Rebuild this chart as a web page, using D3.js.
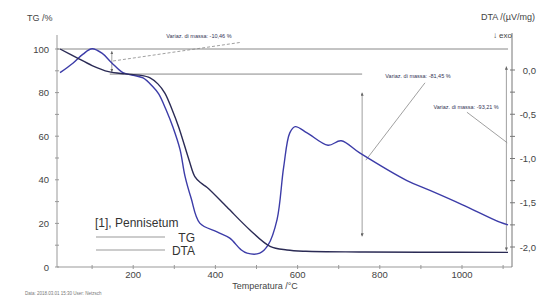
<!DOCTYPE html>
<html>
<head>
<meta charset="utf-8">
<script src="https://cdn.jsdelivr.net/npm/d3@7"></script>
<style>
  body { margin: 0; background: #fff; }
  svg { display: block; font-family: 'Liberation Sans', Arial, sans-serif; }
</style>
</head>
<body>
<div id="chart"></div>
<script>
// TG curve (mass %) vs temperature
const tgTemp = [22, 60, 100, 140, 180, 215, 241, 260, 277, 295, 311, 336, 350, 365, 380, 428, 484, 533, 574, 620, 750, 900, 1112]
const tgMass = [100, 96.3, 92.4, 89.6, 88.6, 88.0, 86.8, 84, 79.8, 72, 64, 49, 41.5, 38.5, 36.5, 27.5, 17, 9.5, 7.8, 7.2, 6.9, 6.8, 6.7]

// DTA curve (µV/mg) vs temperature
const dtaTemp = [22, 54, 78, 100, 124, 148, 175, 200, 224, 248, 262, 280, 297, 314, 326, 341, 362, 404, 435, 462, 477, 508, 528, 550, 566, 581, 594, 623, 674, 706, 752, 866, 922, 1000, 1092, 1112]
const dtaValue = [-0.03, 0.08, 0.18, 0.24, 0.19, 0.08, -0.03, -0.06, -0.09, -0.19, -0.27, -0.45, -0.65, -0.9, -1.2, -1.45, -1.73, -1.83, -1.9, -2.03, -2.07, -2.07, -1.98, -1.69, -1.1, -0.71, -0.64, -0.71, -0.85, -0.8, -0.94, -1.25, -1.36, -1.52, -1.72, -1.75]

const xTicks = [200, 400, 600, 800, 1000]
const tgTicks = [0, 20, 40, 60, 80, 100]
const dtaTicks = [0, -0.5, -1, -1.5, -2]
const dtaTickLabels = ['0,0', '-0,5', '-1,0', '-1,5', '-2,0']

const massSteps = ['Variaz. di massa: -10,46 %', 'Variaz. di massa: -81,45 %', 'Variaz. di massa: -93,21 %']
const legendTitle = '[1], Pennisetum'
const legendNames = ['TG', 'DTA']

const width = 537
const height = 298

const svg = d3
  .select('#chart')
  .append('svg')
  .attr('width', width)
  .attr('height', height)

svg.append('defs')
  .append('marker')
  .attr('id', 'arr')
  .attr('viewBox', '0 0 6 6')
  .attr('refX', 6)
  .attr('refY', 3)
  .attr('markerWidth', 4)
  .attr('markerHeight', 4)
  .attr('orient', 'auto-start-reverse')
  .append('path')
  .attr('d', 'M0,0L6,3L0,6Z')
  .attr('fill', '#666')

const xPositionScale = d3.scaleLinear().domain([0, 1000]).range([51, 462])
const tgScale = d3.scaleLinear().domain([0, 100]).range([267, 49])
const dtaScale = d3.scaleLinear().domain([-2, 0]).range([247, 70])

const axisColor = '#999'
const textColor = '#444'

// left axis
svg.append('line')
  .attr('x1', 57).attr('x2', 57)
  .attr('y1', 35).attr('y2', tgScale(0))
  .attr('stroke', axisColor)

d3.range(0, 101, 10).forEach(v => {
  svg.append('line')
    .attr('x1', 55).attr('x2', 59)
    .attr('y1', tgScale(v)).attr('y2', tgScale(v))
    .attr('stroke', axisColor)
})

svg.selectAll('.tg-tick')
  .data(tgTicks)
  .enter()
  .append('text')
  .attr('class', 'tg-tick')
  .attr('x', 49)
  .attr('y', d => tgScale(d) + 3.5)
  .attr('text-anchor', 'end')
  .attr('font-size', 9.5)
  .attr('fill', textColor)
  .text(d => d)

// bottom axis
svg.append('line')
  .attr('x1', 57).attr('x2', 512)
  .attr('y1', tgScale(0)).attr('y2', tgScale(0))
  .attr('stroke', axisColor)

d3.range(100, 1101, 100).forEach(v => {
  svg.append('line')
    .attr('x1', xPositionScale(v)).attr('x2', xPositionScale(v))
    .attr('y1', tgScale(0) - 2).attr('y2', tgScale(0) + 2)
    .attr('stroke', axisColor)
})

svg.selectAll('.x-tick')
  .data(xTicks)
  .enter()
  .append('text')
  .attr('class', 'x-tick')
  .attr('x', d => xPositionScale(d))
  .attr('y', 278)
  .attr('text-anchor', 'middle')
  .attr('font-size', 9.5)
  .attr('fill', textColor)
  .text(d => d)

// right axis
svg.append('line')
  .attr('x1', 512).attr('x2', 512)
  .attr('y1', 33).attr('y2', tgScale(0))
  .attr('stroke', '#777')

d3.range(-2, 0.01, 0.25).forEach(v => {
  svg.append('line')
    .attr('x1', 510).attr('x2', 515)
    .attr('y1', dtaScale(v)).attr('y2', dtaScale(v))
    .attr('stroke', '#777')
})

svg.selectAll('.dta-tick')
  .data(dtaTicks)
  .enter()
  .append('text')
  .attr('class', 'dta-tick')
  .attr('x', 536)
  .attr('y', d => dtaScale(d) + 3.5)
  .attr('text-anchor', 'end')
  .attr('font-size', 9.5)
  .attr('fill', textColor)
  .text((d, i) => dtaTickLabels[i])

// axis titles
svg.append('text')
  .attr('x', 27).attr('y', 21)
  .attr('font-size', 9).attr('fill', textColor)
  .text('TG /%')

svg.append('text')
  .attr('x', 535).attr('y', 20)
  .attr('text-anchor', 'end')
  .attr('font-size', 9).attr('fill', textColor)
  .text('DTA /(µV/mg)')

svg.append('text')
  .attr('x', 512).attr('y', 38)
  .attr('text-anchor', 'end')
  .attr('font-size', 8).attr('fill', textColor)
  .text('↓ exo')

svg.append('text')
  .attr('x', 265).attr('y', 289)
  .attr('text-anchor', 'middle')
  .attr('font-size', 9).attr('fill', textColor)
  .text('Temperatura /°C')

svg.append('text')
  .attr('x', 25).attr('y', 295)
  .attr('font-size', 4.5).attr('fill', '#777')
  .text('Data:  2018.03.01 15:30     User: Netzsch')

// reference lines for mass steps
svg.append('line')
  .attr('x1', 57).attr('x2', xPositionScale(1112))
  .attr('y1', tgScale(100)).attr('y2', tgScale(100))
  .attr('stroke', '#888')

svg.append('line')
  .attr('x1', xPositionScale(143)).attr('x2', xPositionScale(757))
  .attr('y1', tgScale(88.5)).attr('y2', tgScale(88.5))
  .attr('stroke', '#888')

const stepArrows = [
  { t: 148, from: 99, to: 89.5 },
  { t: 757, from: 80, to: 14 },
  { t: 1108, from: 92, to: 7.5 }
]

svg.selectAll('.step-arrow')
  .data(stepArrows)
  .enter()
  .append('line')
  .attr('class', 'step-arrow')
  .attr('x1', d => xPositionScale(d.t))
  .attr('x2', d => xPositionScale(d.t))
  .attr('y1', d => tgScale(d.from))
  .attr('y2', d => tgScale(d.to))
  .attr('stroke', '#888')
  .attr('stroke-width', 0.8)
  .attr('marker-start', 'url(#arr)')
  .attr('marker-end', 'url(#arr)')

// annotation leaders and labels (anchors in data units)
const stepLabels = [
  { t: 360, v: 105, lead: [[151, 94.5], [460, 103]], dash: true },
  { t: 893, v: 86.5, lead: [[910, 84.5], [766, 49]], dash: false },
  { t: 1010, v: 72.5, lead: [[1012, 71], [1110, 57]], dash: false }
]

stepLabels.forEach((d, i) => {
  svg.append('line')
    .attr('x1', xPositionScale(d.lead[0][0]))
    .attr('y1', tgScale(d.lead[0][1]))
    .attr('x2', xPositionScale(d.lead[1][0]))
    .attr('y2', tgScale(d.lead[1][1]))
    .attr('stroke', '#888')
    .attr('stroke-width', 0.8)
    .attr('stroke-dasharray', d.dash ? '3,2' : null)

  svg.append('text')
    .attr('x', xPositionScale(d.t))
    .attr('y', tgScale(d.v))
    .attr('text-anchor', 'middle')
    .attr('font-size', 5.5)
    .attr('fill', '#335')
    .text(massSteps[i])
})

// curves
const tgLine = d3.line()
  .x(d => xPositionScale(d[0]))
  .y(d => tgScale(d[1]))
  .curve(d3.curveCatmullRom.alpha(0.5))

const dtaLine = d3.line()
  .x(d => xPositionScale(d[0]))
  .y(d => dtaScale(d[1]))
  .curve(d3.curveCatmullRom.alpha(0.5))

svg.append('path')
  .datum(d3.zip(dtaTemp, dtaValue))
  .attr('d', dtaLine)
  .attr('fill', 'none')
  .attr('stroke', '#3c3ca8')
  .attr('stroke-width', 1.4)

svg.append('path')
  .datum(d3.zip(tgTemp, tgMass))
  .attr('d', tgLine)
  .attr('fill', 'none')
  .attr('stroke', '#2b2b55')
  .attr('stroke-width', 1.4)

// legend
svg.append('text')
  .attr('x', 95).attr('y', 227)
  .attr('font-size', 12)
  .attr('fill', '#333')
  .text(legendTitle)

legendNames.forEach((name, i) => {
  const y = 237 + i * 13
  svg.append('line')
    .attr('x1', 96).attr('x2', 165)
    .attr('y1', y).attr('y2', y)
    .attr('stroke', '#999')
  svg.append('text')
    .attr('x', 195).attr('y', y + 5)
    .attr('text-anchor', 'end')
    .attr('font-size', 12)
    .attr('fill', '#333')
    .text(name)
})
</script>
</body>
</html>
